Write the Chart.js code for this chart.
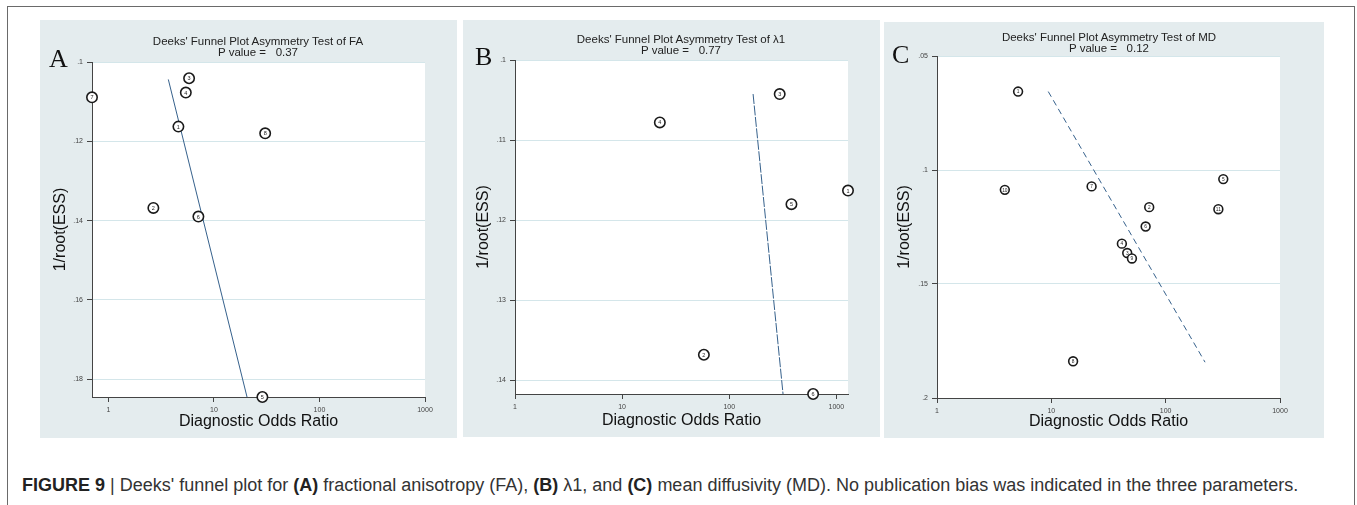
<!DOCTYPE html>
<html>
<head>
<meta charset="utf-8">
<script src="https://cdn.jsdelivr.net/npm/chart.js@4.4.1/dist/chart.umd.min.js"></script>
<style>
  body { margin: 0; width: 1357px; height: 505px; overflow: hidden; position: relative; background: #fff;
         font-family: "Liberation Sans", Arial, sans-serif; }
  .frame { position: absolute; left: 7px; top: 6px; width: 1346px; height: 520px; border: 1.5px solid #6a6a6a; }
  .panel { position: absolute; background: #e4ecee; }
  .panel canvas { position: absolute; left: 0; top: 0; }
  .title { position: absolute; font-size: 11.5px; line-height: 10.5px; color: #222; text-align: center;
           white-space: pre; transform: translateX(-50%); }
  .letter { position: absolute; font-family: "Liberation Serif", "Times New Roman", serif; font-size: 26px;
            line-height: 25px; color: #111; }
  .caption { position: absolute; left: 22px; top: 475px; font-size: 18px; line-height: 20px; color: #333; white-space: nowrap; }
  .caption b { color: #222; }
</style>
</head>
<body>
<div class="frame"></div>

<div class="panel" style="left:40px;top:20px;width:417px;height:418px"><canvas id="chartA" width="417" height="418"></canvas></div>
<div class="panel" style="left:463px;top:20px;width:417px;height:417px"><canvas id="chartB" width="417" height="417"></canvas></div>
<div class="panel" style="left:884px;top:22px;width:440px;height:416px"><canvas id="chartC" width="440" height="416"></canvas></div>

<div class="title" style="left:258px;top:36px">Deeks' Funnel Plot Asymmetry Test of FA
P value =   0.37</div>
<div class="title" style="left:681px;top:34px">Deeks' Funnel Plot Asymmetry Test of λ1
P value =   0.77</div>
<div class="title" style="left:1109px;top:32px">Deeks' Funnel Plot Asymmetry Test of MD
P value =   0.12</div>

<div class="letter" style="left:49px;top:46px">A</div>
<div class="letter" style="left:475px;top:44px">B</div>
<div class="letter" style="left:892px;top:42px">C</div>

<div class="caption"><b>FIGURE 9</b> | Deeks' funnel plot for <b>(A)</b> fractional anisotropy (FA), <b>(B)</b> λ1, and <b>(C)</b> mean diffusivity (MD). No publication bias was indicated in the three parameters.</div>

<script>
// x axis: diagnostic odds ratio (log), y axis: 1/root(ESS) (reversed)
const xTicks = [1, 10, 100, 1000];

// A: fractional anisotropy
const studiesA = ['1', '2', '3', '4', '5', '6', '7', '8'];
const dorA = [4.61, 2.67, 5.82, 5.42, 28.8, 7.13, 0.7, 30.6];
const essA = [0.1163, 0.1368, 0.1041, 0.1077, 0.1845, 0.139, 0.1089, 0.118];
const fitDorA = [3.7, 20.6];
const fitEssA = [0.1044, 0.1845];
const yTicksA = [0.1, 0.12, 0.14, 0.16, 0.18];

// B: lambda 1
const studiesB = ['1', '2', '3', '4', '5', '6'];
const dorB = [1285, 58, 296, 22.5, 381, 607];
const essB = [0.1163, 0.1368, 0.10425, 0.1078, 0.118, 0.1417];
const fitDorB = [167, 318];
const fitEssB = [0.10425, 0.1417];
const yTicksB = [0.1, 0.11, 0.12, 0.13, 0.14];

// C: mean diffusivity
const studiesC = ['1', '2', '3', '4', '5', '6', '7', '8', '9', '10', '11'];
const dorC = [5.12, 71.8, 46.1, 41.4, 319, 66.8, 22.5, 15.5, 50.7, 3.92, 289];
const essC = [0.0656, 0.1163, 0.1364, 0.1323, 0.104, 0.1248, 0.1072, 0.1839, 0.1388, 0.1087, 0.1172];
const fitDorC = [9.4, 221];
const fitEssC = [0.0656, 0.1843];
const yTicksC = [0.05, 0.1, 0.15, 0.2];

const AXIS = '#444';
const FONT = '"Liberation Sans", Arial, sans-serif';

const plotBg = {
  id: 'plotBg',
  beforeDraw(chart) {
    const { ctx, chartArea: a } = chart;
    ctx.save();
    ctx.fillStyle = '#fff';
    ctx.fillRect(a.left, a.top, a.right - a.left, a.bottom - a.top);
    ctx.restore();
  },
};

const studyLabels = {
  id: 'studyLabels',
  afterDatasetsDraw(chart) {
    const ds = chart.data.datasets[0];
    const meta = chart.getDatasetMeta(0);
    const ctx = chart.ctx;
    ctx.save();
    ctx.font = `${ds.labelSize}px ${FONT}`;
    ctx.fillStyle = '#222';
    ctx.textAlign = 'center';
    ctx.textBaseline = 'middle';
    meta.data.forEach((pt, i) => ctx.fillText(ds.labels[i], pt.x, pt.y + 0.5));
    ctx.restore();
  },
};

const fmtY = (v) => String(+v.toFixed(4)).replace(/^0\./, '.');

function funnel(id, p) {
  new Chart(document.getElementById(id), {
    type: 'scatter',
    data: {
      datasets: [
        {
          labels: p.studies,
          labelSize: p.labelSize,
          data: p.dor.map((x, i) => ({ x, y: p.ess[i] })),
          pointStyle: 'circle',
          pointRadius: p.radius,
          pointBorderWidth: p.border,
          pointBorderColor: '#1a1a1a',
          pointBackgroundColor: '#fff',
          clip: false,
        },
        {
          data: p.fitDor.map((x, i) => ({ x, y: p.fitEss[i] })),
          showLine: true,
          borderColor: '#36618c',
          borderWidth: 1,
          borderDash: p.dash,
          pointRadius: 0,
          clip: false,
        },
      ],
    },
    options: {
      responsive: false,
      animation: false,
      events: [],
      layout: { padding: { left: 0, top: p.pad.top, right: p.pad.right, bottom: 0 } },
      plugins: { legend: { display: false }, tooltip: { enabled: false } },
      scales: {
        x: {
          type: 'logarithmic',
          bounds: 'data',
          min: p.xMin,
          max: p.xMax,
          afterBuildTicks: (s) => { s.ticks = xTicks.filter((v) => v >= s.min && v <= s.max).map((v) => ({ value: v })); },
          afterFit: (s) => { s.height = p.pad.bottom; },
          border: { color: AXIS, width: 1 },
          grid: { drawOnChartArea: false, tickColor: AXIS, tickLength: 5 },
          ticks: { autoSkip: false, maxRotation: 0, padding: 4, color: '#444', font: { family: FONT, size: 7 },
                   callback: (v) => String(v) },
          title: { display: true, text: 'Diagnostic Odds Ratio', color: '#111', font: { family: FONT, size: 16 },
                   padding: { top: 0, bottom: 7 } },
        },
        y: {
          type: 'linear',
          bounds: 'data',
          reverse: true,
          min: p.yMin,
          max: p.yMax,
          afterBuildTicks: (s) => { s.ticks = p.yTicks.map((v) => ({ value: v })); },
          afterFit: (s) => { s.width = p.pad.left; },
          border: { color: AXIS, width: 1 },
          grid: { color: '#d4e6ea', tickColor: AXIS, tickLength: 5 },
          ticks: { padding: 4, color: '#444', font: { family: FONT, size: 7 }, callback: (v) => fmtY(v) },
          title: { display: true, text: '1/root(ESS)', color: '#111', font: { family: FONT, size: 16 },
                   padding: { top: 11, bottom: 0 } },
        },
      },
    },
    plugins: [plotBg, studyLabels],
  });
}

funnel('chartA', {
  studies: studiesA, dor: dorA, ess: essA, fitDor: fitDorA, fitEss: fitEssA, yTicks: yTicksA,
  xMin: 0.7, xMax: 1000, yMin: 0.1, yMax: 0.1845,
  pad: { left: 52, top: 42, right: 32, bottom: 41 },
  radius: 5.2, border: 1.6, labelSize: 5.5, dash: [],
});

funnel('chartB', {
  studies: studiesB, dor: dorB, ess: essB, fitDor: fitDorB, fitEss: fitEssB, yTicks: yTicksB,
  xMin: 1, xMax: 1285, yMin: 0.1, yMax: 0.1417,
  pad: { left: 52, top: 40, right: 32, bottom: 43 },
  radius: 5.2, border: 1.6, labelSize: 5.5, dash: [10, 1.5],
});

funnel('chartC', {
  studies: studiesC, dor: dorC, ess: essC, fitDor: fitDorC, fitEss: fitEssC, yTicks: yTicksC,
  xMin: 1, xMax: 1000, yMin: 0.05, yMax: 0.2,
  pad: { left: 53, top: 34, right: 44, bottom: 40 },
  radius: 4.4, border: 1.6, labelSize: 4.8, dash: [6, 4],
});
</script>
</body>
</html>
